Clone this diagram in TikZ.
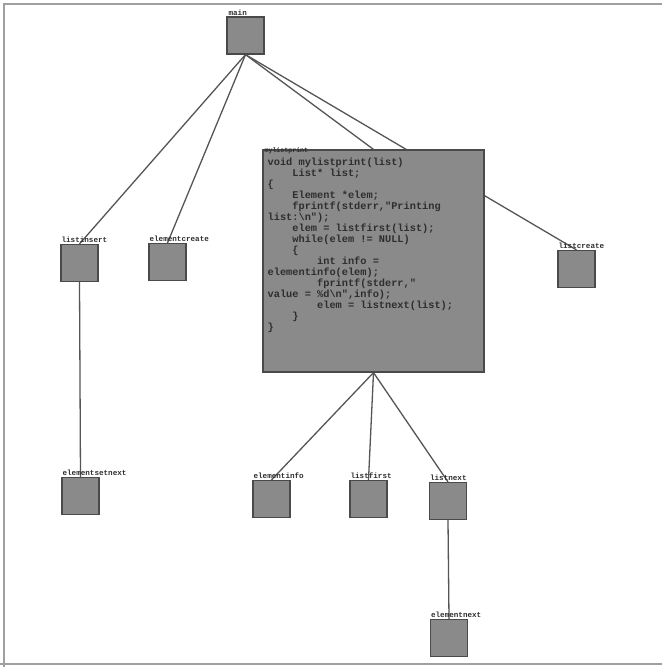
\documentclass[tikz,border=0pt]{standalone}
\usepackage{fontspec}
\setmonofont{Liberation Mono}
\usetikzlibrary{backgrounds}
\definecolor{boxfill}{HTML}{8A8A8A}
\definecolor{boxline}{HTML}{4A4A4A}
\definecolor{edgecol}{HTML}{555555}
\definecolor{txtcol}{HTML}{2E2E2E}
\definecolor{framecol}{HTML}{A0A0A0}
\tikzset{
  fnbox/.style={draw=boxline, fill=boxfill, line width=1.2pt, minimum width=37pt, minimum height=37pt, inner sep=0pt},
  fnlabel/.style={anchor=south west, inner sep=0pt, font=\ttfamily\bfseries\fontsize{7.6}{7.6}\selectfont, text=txtcol},
  edge/.style={draw=edgecol, line width=1.3pt},
}
\begin{document}
\begin{tikzpicture}[x=1pt,y=-1pt]
\useasboundingbox (0,0) rectangle (662,667);
\draw[framecol, line width=2pt] (4,667) -- (4,4) -- (662,4);
\draw[framecol, line width=2pt] (0,664) -- (662,664);

\node[fnbox] (main) at (245.5,35.5) {};
\node[fnbox] (listinsert) at (79.5,263) {};
\node[fnbox] (elementcreate) at (167.5,262) {};
\node[fnbox] (listcreate) at (576.5,269) {};
\node[fnbox] (elementsetnext) at (80.5,496) {};
\node[fnbox] (elementinfo) at (271.5,499) {};
\node[fnbox] (listfirst) at (368.5,499) {};
\node[fnbox] (listnext) at (448,501) {};
\node[fnbox] (elementnext) at (449,638) {};
\node[fnbox, minimum width=221pt, minimum height=222pt] (big) at (373.5,261) {};

\node[fnlabel] (lmain) at ([xshift=2pt,yshift=1pt]main.north west) {main};
\node[fnlabel] (llistinsert) at ([xshift=1pt,yshift=1pt]listinsert.north west) {listinsert};
\node[fnlabel] (lelementcreate) at ([xshift=1pt,yshift=1pt]elementcreate.north west) {elementcreate};
\node[fnlabel] (llistcreate) at ([xshift=1pt,yshift=1pt]listcreate.north west) {listcreate};
\node[fnlabel] (lelementsetnext) at ([xshift=1pt,yshift=1pt]elementsetnext.north west) {elementsetnext};
\node[fnlabel] (lelementinfo) at ([xshift=1pt,yshift=1pt]elementinfo.north west) {elementinfo};
\node[fnlabel] (llistfirst) at ([xshift=1pt,yshift=1pt]listfirst.north west) {listfirst};
\node[fnlabel] (llistnext) at ([xshift=1pt,yshift=1pt]listnext.north west) {listnext};
\node[fnlabel] (lelementnext) at ([xshift=1pt,yshift=1pt]elementnext.north west) {elementnext};
\node[fnlabel, anchor=north west, font=\ttfamily\bfseries\fontsize{6.6}{6.6}\selectfont] (lbig) at ([xshift=2pt,yshift=1.5pt]big.north west) {mylistprint};

\node[anchor=north west, inner sep=0pt, align=left, text=txtcol,
      font=\ttfamily\bfseries\fontsize{10.3}{11}\selectfont] (code) at (267.5,157.5) {%
void mylistprint(list)\\
\hspace*{4\fontcharwd\font`0}List* list;\\
\{\\
\hspace*{4\fontcharwd\font`0}Element *elem;\\
\hspace*{4\fontcharwd\font`0}fprintf(stderr,"Printing\\
list:\textbackslash n");\\
\hspace*{4\fontcharwd\font`0}elem = listfirst(list);\\
\hspace*{4\fontcharwd\font`0}while(elem != NULL)\\
\hspace*{4\fontcharwd\font`0}\{\\
\hspace*{8\fontcharwd\font`0}int info =\\
elementinfo(elem);\\
\hspace*{8\fontcharwd\font`0}fprintf(stderr,"\\
value = \%d\textbackslash n",info);\\
\hspace*{8\fontcharwd\font`0}elem = listnext(list);\\
\hspace*{4\fontcharwd\font`0}\}\\
\}};

\begin{pgfonlayer}{background}
\draw[edge] (main.south) -- (listinsert.north);
\draw[edge] (main.south) -- (elementcreate.north);
\draw[edge] (main.south) -- (big.north);
\draw[edge] (main.south) -- (listcreate.north);
\draw[edge] (listinsert.south) -- (elementsetnext.north);
\draw[edge] (big.south) -- (elementinfo.north);
\draw[edge] (big.south) -- (listfirst.north);
\draw[edge] (big.south) -- (listnext.north);
\draw[edge] (listnext.south) -- (elementnext.north);
\end{pgfonlayer}
\end{tikzpicture}
\end{document}
